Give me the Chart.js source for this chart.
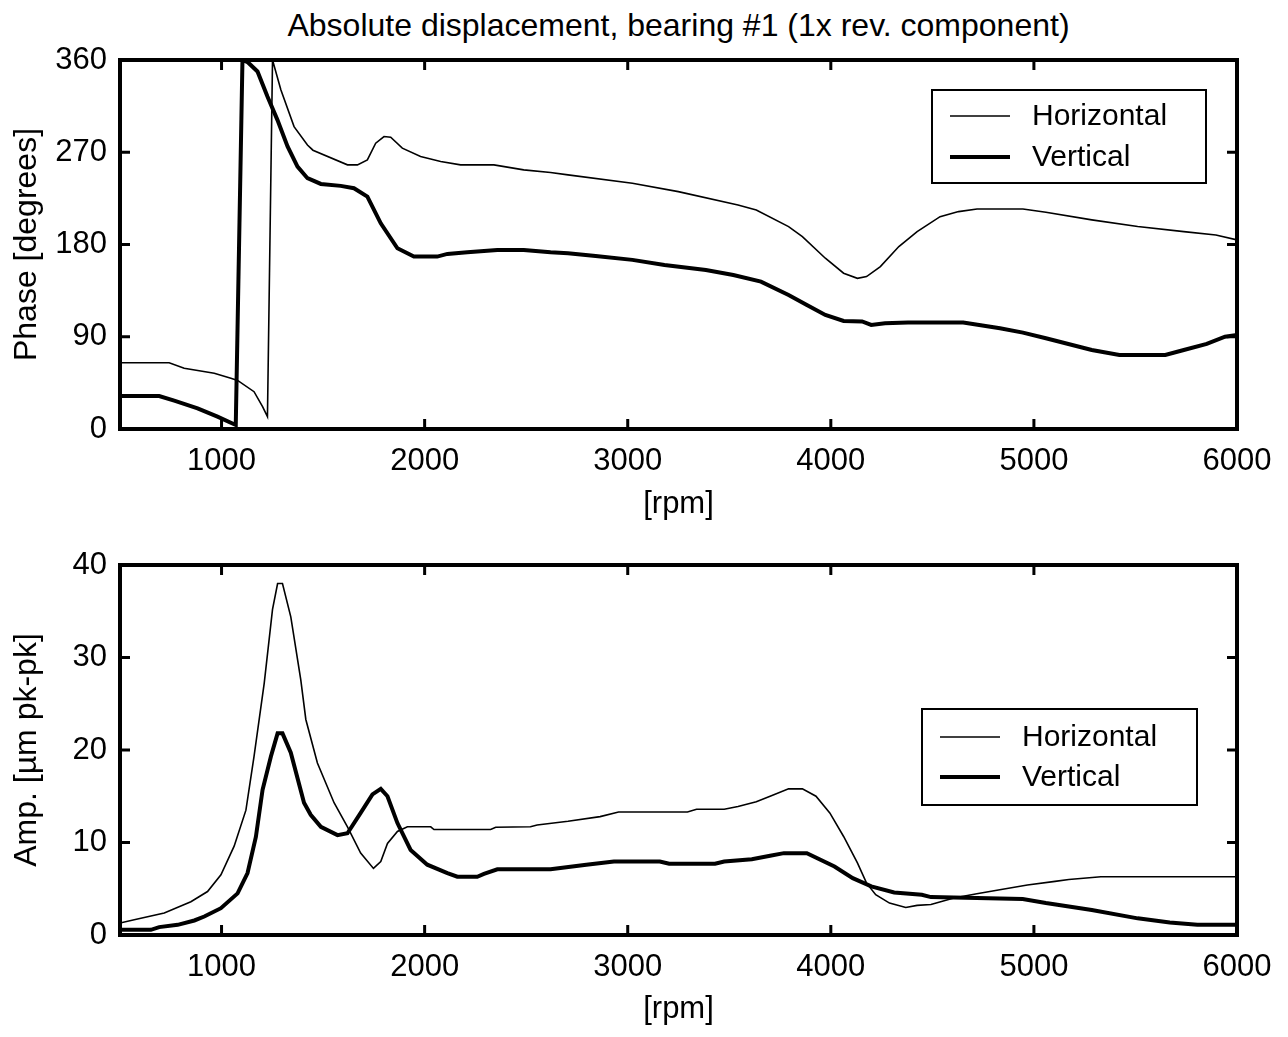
<!DOCTYPE html>
<html>
<head>
<meta charset="utf-8">
<title>Absolute displacement, bearing #1</title>
<script src="https://cdn.jsdelivr.net/npm/chart.js@4/dist/chart.umd.min.js"></script>
<style>
    body { margin: 0; background: #fff; width: 1288px; height: 1037px; position: relative; overflow: hidden; }
    #title {
        position: absolute; left: 120px; width: 1117px; top: 7px;
        text-align: center; font: 32px "Liberation Sans", Arial, sans-serif; line-height: 36px; color: #000;
    }
    .wrap { position: absolute; left: 0; }
    #topWrap { top: 0; }
    #bottomWrap { top: 530px; }
</style>
</head>
<body>
<div id="title">Absolute displacement, bearing #1 (1x rev. component)</div>
<div class="wrap" id="topWrap"><canvas id="phaseChart" width="1288" height="530"></canvas></div>
<div class="wrap" id="bottomWrap"><canvas id="ampChart" width="1288" height="507"></canvas></div>

<script>
// 축 눈금
const rpmTicks = [1000, 2000, 3000, 4000, 5000, 6000];
const phaseTicks = [0, 90, 180, 270, 360];
const ampTicks = [0, 10, 20, 30, 40];

// 위상 - 수평
const phaseHRpm = [500, 742, 816, 964, 1046, 1079, 1160, 1202, 1226, 1251, 1292, 1357, 1423, 1450, 1620, 1669, 1718, 1759, 1800, 1833, 1890, 1980, 2079, 2177, 2341, 2488, 2620, 2706, 3023, 3249, 3543, 3633, 3792, 3860, 3973, 4063, 4131, 4176, 4244, 4335, 4425, 4538, 4629, 4720, 4946, 5059, 5285, 5511, 5738, 5896, 6000];
const phaseH = [64.7, 64.7, 59.2, 54.4, 49.5, 47.4, 36.4, 21.8, 12, 360, 331, 295, 277, 272, 257.7, 257.7, 262.5, 278.8, 285.3, 284.7, 274, 265.8, 261, 257.7, 257.7, 252.8, 250.2, 247.9, 239.8, 231.6, 218.6, 213.7, 197.5, 187.7, 166.6, 152, 147, 148.7, 158.4, 178, 192.6, 207.2, 212.1, 214.7, 214.7, 211.5, 204, 197.5, 192.6, 189.3, 184.5];

// 위상 - 수직
const phaseVRpm = [500, 693, 767, 882, 980, 1070, 1103, 1128, 1177, 1226, 1275, 1325, 1374, 1423, 1489, 1587, 1652, 1718, 1784, 1866, 1947, 2062, 2112, 2210, 2358, 2488, 2620, 2706, 2842, 3023, 3181, 3385, 3520, 3656, 3792, 3882, 3973, 4063, 4154, 4199, 4267, 4380, 4652, 4833, 4946, 5059, 5285, 5421, 5647, 5738, 5851, 5941, 6000];
const phaseV = [32.2, 32.2, 27.7, 20.2, 12, 3.9, 360, 358, 348.8, 324.4, 301.6, 275.6, 256, 244.7, 239.1, 237.2, 234.9, 226.8, 200.7, 176.3, 168.2, 168.2, 170.8, 172.4, 174.7, 174.7, 172.4, 171.5, 168.8, 165, 160, 155.2, 150.3, 143.8, 130.8, 121, 111.3, 105.4, 104.9, 101.5, 103.1, 103.8, 103.8, 98.2, 94, 88.5, 77.1, 72.2, 72.2, 77.1, 83, 90.1, 91.7];

// 진폭 - 수평
const ampHRpm = [500, 570, 718, 849, 931, 997, 1062, 1120, 1160, 1210, 1251, 1276, 1300, 1341, 1390, 1415, 1472, 1554, 1620, 1685, 1748, 1784, 1817, 1866, 1915, 2030, 2046, 2325, 2350, 2521, 2554, 2706, 2864, 2955, 3294, 3339, 3475, 3543, 3633, 3701, 3792, 3860, 3927, 3995, 4063, 4131, 4176, 4221, 4289, 4369, 4425, 4493, 4606, 4719, 4832, 4968, 5104, 5172, 5330, 6000];
const ampH = [1.3, 1.64, 2.37, 3.6, 4.7, 6.5, 9.6, 13.5, 19.3, 27.2, 35.2, 38.0, 38.0, 34.4, 27.6, 23.3, 18.6, 14.3, 11.7, 8.85, 7.2, 7.95, 9.9, 11.2, 11.7, 11.7, 11.4, 11.4, 11.65, 11.7, 11.9, 12.3, 12.8, 13.3, 13.3, 13.6, 13.6, 13.9, 14.4, 15.0, 15.8, 15.8, 15.0, 13.2, 10.65, 7.8, 5.6, 4.35, 3.45, 2.97, 3.2, 3.3, 4.0, 4.45, 4.9, 5.4, 5.8, 6.0, 6.3, 6.3];

// 진폭 - 수직
const ampVRpm = [500, 652, 693, 784, 866, 915, 997, 1079, 1128, 1169, 1202, 1243, 1276, 1300, 1341, 1406, 1439, 1489, 1571, 1620, 1685, 1743, 1784, 1817, 1866, 1931, 2013, 2112, 2161, 2259, 2292, 2358, 2620, 2796, 2932, 3158, 3204, 3430, 3475, 3611, 3701, 3769, 3882, 4018, 4108, 4199, 4312, 4448, 4493, 4945, 5059, 5285, 5511, 5669, 5805, 6000];
const ampV = [0.56, 0.56, 0.85, 1.1, 1.57, 2.0, 2.9, 4.5, 6.7, 10.6, 15.7, 19.3, 21.8, 21.8, 19.7, 14.3, 13.0, 11.7, 10.8, 11.0, 13.2, 15.2, 15.8, 15.0, 12.1, 9.2, 7.6, 6.7, 6.3, 6.3, 6.6, 7.1, 7.1, 7.6, 7.95, 7.95, 7.7, 7.7, 7.95, 8.2, 8.56, 8.85, 8.85, 7.4, 6.15, 5.25, 4.6, 4.35, 4.1, 3.9, 3.45, 2.7, 1.8, 1.35, 1.1, 1.1];

const FONT = '"Liberation Sans", Arial, sans-serif';

function toPoints(xs, ys) {
    return xs.map((x, i) => ({ x: x, y: ys[i] }));
}

// 테두리 + 안쪽 눈금 (matlab 스타일)
const boxFrame = {
    id: 'boxFrame',
    afterDraw(chart) {
        const { ctx, chartArea: a, scales } = chart;
        ctx.save();
        ctx.strokeStyle = '#000';
        ctx.lineWidth = 3;
        const len = 10;
        ctx.beginPath();
        scales.x.ticks.forEach(t => {
            const px = scales.x.getPixelForValue(t.value);
            ctx.moveTo(px, a.bottom); ctx.lineTo(px, a.bottom - len);
            ctx.moveTo(px, a.top); ctx.lineTo(px, a.top + len);
        });
        scales.y.ticks.forEach(t => {
            const py = scales.y.getPixelForValue(t.value);
            ctx.moveTo(a.left, py); ctx.lineTo(a.left + len, py);
            ctx.moveTo(a.right, py); ctx.lineTo(a.right - len, py);
        });
        ctx.stroke();
        ctx.lineWidth = 4;
        ctx.strokeRect(a.left, a.top, a.right - a.left, a.bottom - a.top);
        ctx.restore();
    }
};

// 박스 범례
const boxLegend = {
    id: 'boxLegend',
    afterDraw(chart, args, opts) {
        const { ctx } = chart;
        ctx.save();
        ctx.fillStyle = '#fff';
        ctx.fillRect(opts.left, opts.top, opts.width, opts.height);
        ctx.strokeStyle = '#000';
        ctx.lineWidth = 2;
        ctx.strokeRect(opts.left, opts.top, opts.width, opts.height);
        ctx.font = '30px ' + FONT;
        ctx.textBaseline = 'middle';
        ctx.fillStyle = '#000';
        chart.data.datasets.forEach((ds, i) => {
            const y = opts.top + opts.rows[i];
            ctx.lineWidth = ds.borderWidth;
            ctx.beginPath();
            ctx.moveTo(opts.left + 18, y);
            ctx.lineTo(opts.left + 78, y);
            ctx.stroke();
            ctx.fillText(ds.label, opts.left + 100, y + 1);
        });
        ctx.restore();
    }
};

function makeChart(id, opt) {
    const ctx = document.getElementById(id).getContext('2d');
    return new Chart(ctx, {
        type: 'line',
        data: {
            datasets: [{
                label: 'Horizontal',
                data: toPoints(opt.hx, opt.hy),
                borderColor: '#000',
                borderWidth: 1.6,
                pointRadius: 0,
                tension: 0,
                fill: false
            }, {
                label: 'Vertical',
                data: toPoints(opt.vx, opt.vy),
                borderColor: '#000',
                borderWidth: 4,
                pointRadius: 0,
                tension: 0,
                fill: false
            }]
        },
        options: {
            responsive: false,
            animation: false,
            events: [],
            layout: {
                padding: { top: opt.padTop, right: 51, left: 0, bottom: 0 }
            },
            plugins: {
                legend: { display: false },
                tooltip: { enabled: false },
                boxLegend: opt.legend
            },
            scales: {
                x: {
                    type: 'linear',
                    min: 500,
                    max: 6000,
                    afterBuildTicks: function(s) {
                        s.ticks = rpmTicks.map(v => ({ value: v }));
                    },
                    afterFit: function(s) {
                        s.height = opt.xHeight;
                    },
                    grid: { display: false, drawTicks: false },
                    border: { display: false },
                    ticks: {
                        color: '#000',
                        font: { size: 31, family: FONT },
                        padding: 14,
                        maxRotation: 0,
                        autoSkip: false,
                        callback: function(value) {
                            return String(value);
                        }
                    },
                    title: {
                        display: true,
                        text: '[rpm]',
                        color: '#000',
                        font: { size: 31, family: FONT },
                        padding: { top: 0, bottom: opt.rpmPad }
                    }
                },
                y: {
                    type: 'linear',
                    min: opt.yMin,
                    max: opt.yMax,
                    afterBuildTicks: function(s) {
                        s.ticks = opt.yTicks.map(v => ({ value: v }));
                    },
                    afterFit: function(s) {
                        s.width = 120;
                    },
                    grid: { display: false, drawTicks: false },
                    border: { display: false },
                    ticks: {
                        color: '#000',
                        font: { size: 31, family: FONT },
                        padding: 13,
                        autoSkip: false,
                        callback: function(value) {
                            return String(value);
                        }
                    },
                    title: {
                        display: true,
                        text: opt.yTitle,
                        color: '#000',
                        font: { size: 32, family: FONT },
                        padding: { top: 8, bottom: 0 }
                    }
                }
            }
        },
        plugins: [boxFrame, boxLegend]
    });
}

document.addEventListener('DOMContentLoaded', function() {
    makeChart('phaseChart', {
        hx: phaseHRpm, hy: phaseH, vx: phaseVRpm, vy: phaseV,
        yMin: 0, yMax: 360, yTicks: phaseTicks,
        yTitle: 'Phase [degrees]',
        padTop: 60, xHeight: 101, rpmPad: 7,
        legend: { left: 932, top: 90, width: 274, height: 93, rows: [26, 67] }
    });
    makeChart('ampChart', {
        hx: ampHRpm, hy: ampH, vx: ampVRpm, vy: ampV,
        yMin: 0, yMax: 40, yTicks: ampTicks,
        yTitle: 'Amp. [µm pk-pk]',
        padTop: 35, xHeight: 102, rpmPad: 9,
        legend: { left: 922, top: 179, width: 275, height: 96, rows: [28, 68] }
    });
});
</script>
</body>
</html>
